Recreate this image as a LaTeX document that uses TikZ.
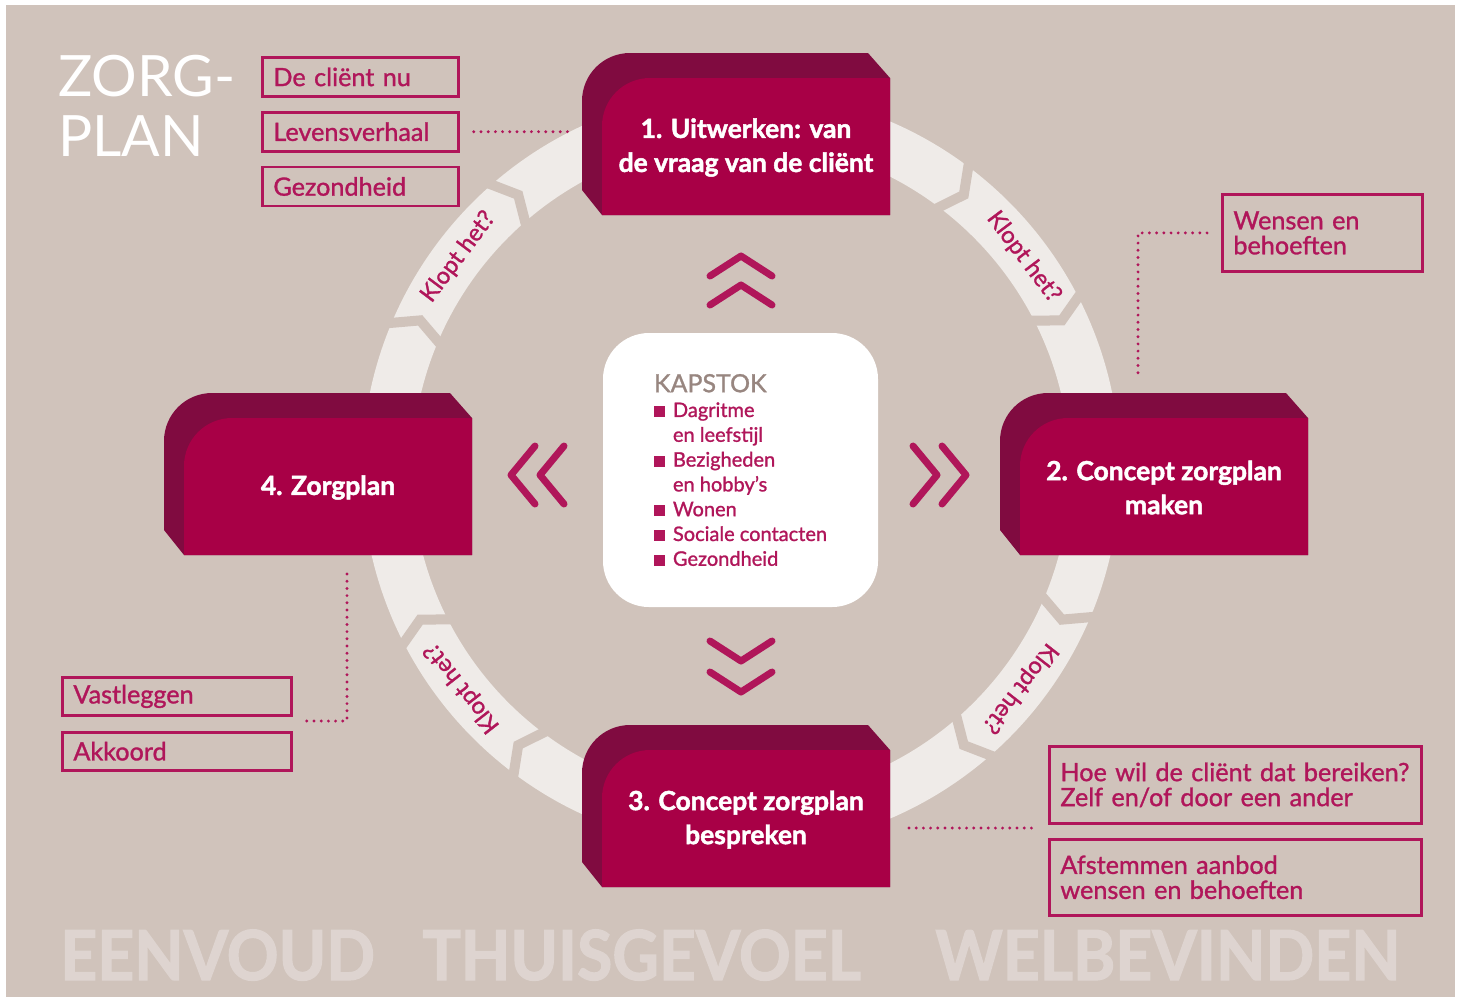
\documentclass[tikz,border=0pt]{standalone}
\usepackage{fontspec}
\setmainfont{Lato}
\newfontfamily\medfont{Lato}[FakeBold=1.2]
\newfontfamily\heavyfont{Lato}[BoldFeatures={FakeBold=1.8}]
\usepackage{tikz}
\usetikzlibrary{positioning}

\definecolor{zbg}{HTML}{D0C3BB}
\definecolor{zring}{HTML}{EFEBE8}
\definecolor{zfront}{HTML}{A80046}
\definecolor{zside}{HTML}{800B40}
\definecolor{zred}{HTML}{B0165A}
\definecolor{zgrey}{HTML}{988680}
\definecolor{zword}{HTML}{DED4D0}

\tikzstyle{tagbox} = [draw=zred, line width=1.4pt, text=zred, anchor=north west, align=left, inner xsep=5.5pt, inner ysep=0pt, font=\medfont\fontsize{12.6}{12.5}\selectfont]
\tikzstyle{blocktext} = [text=white, align=center, minimum width=144pt, minimum height=68.5pt, inner sep=0pt, font=\heavyfont\bfseries\fontsize{13.2}{17}\selectfont]
\tikzstyle{dotline} = [zred, line width=1.6pt, line cap=round, dash pattern=on 0pt off 3.6pt]
\tikzstyle{chev} = [zred, line width=3.5pt, line cap=round, line join=round]
\tikzstyle{klopt} = [text=zred, inner sep=0pt, font=\medfont\fontsize{11.8}{11.8}\selectfont]
\tikzstyle{ringline} = [zring, line width=25pt]
\tikzstyle{ringgap} = [zbg, line width=5pt]
\tikzstyle{bigword} = [text=zword, anchor=base west, inner sep=0pt, font=\heavyfont\bfseries\fontsize{34.5}{34.5}\selectfont]

\newcommand{\blt}{{\color{zred}\rule{5.5pt}{5.5pt}}\hspace{4pt}}
\newcommand{\zblock}[3]{%
  \begin{scope}[shift={#2}]
    \fill[zside] (-20,112) -- (-20,23) arc[start angle=180, end angle=270, radius=48] -- (266,-25) -- (288,0) -- (288,137) -- (0,137) -- cycle;
    \fill[zfront] (0,137) -- (0,48) arc[start angle=180, end angle=270, radius=48] -- (288,0) -- (288,137) -- cycle;
    \node[blocktext] (#1) at (144,69.5) {#3};
  \end{scope}}

\begin{document}
\begin{tikzpicture}[x=0.5pt, y=-0.5pt]
\useasboundingbox (0,0) rectangle (1461,998);
\fill[white] (0,0) rectangle (1461,998);
\fill[zbg] (6,5) rectangle (1455,997);

\begin{scope}[shift={(741,470)}]
  \draw[ringline] (0,0) circle[radius=354];
  \foreach \a in {-155,-129,-51,-25,25,51,129,155}
    \draw[ringgap] (\a-3:318) -- (\a:354) -- (\a-3:390);
  \node[klopt, rotate=53] (k1) at (-143:354) {Klopt het?};
  \node[klopt, rotate=-53] (k2) at (-37:354) {Klopt het?};
  \node[klopt, rotate=-128] (k3) at (38:354) {Klopt het?};
  \node[klopt, rotate=128] (k4) at (142:354) {Klopt het?};
\end{scope}

\zblock{s1}{(602,78)}{1. Uitwerken: van\\de vraag van de cliënt}
\zblock{s2}{(1020,418)}{2. Concept zorgplan\\maken}
\zblock{s3}{(602,750)}{3. Concept zorgplan\\bespreken}
\zblock{s4}{(184,418)}{4. Zorgplan}

\node[fill=white, rounded corners=23pt, minimum width=137.5pt, minimum height=137pt, align=left, inner sep=0pt, text=zred, font=\medfont\fontsize{10}{12.4}\selectfont] (kap) at (740.5,470) {{\color{zgrey}\fontsize{12.5}{12.4}\selectfont KAPSTOK}\\
  \blt Dagritme\\ \hphantom{\blt}en leefstijl\\
  \blt Bezigheden\\ \hphantom{\blt}en hobby’s\\
  \blt Wonen\\ \blt Sociale contacten\\ \blt Gezondheid};

\draw[chev] (710,276) -- (741,256) -- (772,276);
\draw[chev] (710,305) -- (741,285) -- (772,305);
\draw[chev] (710,641) -- (741,661) -- (772,641);
\draw[chev] (710,672) -- (741,692) -- (772,672);
\draw[chev] (535,446) -- (511,475) -- (535,504);
\draw[chev] (564,446) -- (540,475) -- (564,504);
\draw[chev] (913,446) -- (937,475) -- (913,504);
\draw[chev] (942,446) -- (966,475) -- (942,504);

\node[text=white, anchor=north west, align=left, inner sep=0pt, font=\fontsize{28.5}{30}\selectfont] (title) at (58,55) {ZORG-\\PLAN};

\node[tagbox, text width=87pt, minimum height=19.5pt] (dcn) at (261,56) {De cliënt nu};
\node[tagbox, text width=87pt, minimum height=19.5pt, below=6.5pt of dcn] (lev) {Levensverhaal};
\node[tagbox, text width=87pt, minimum height=19.5pt, below=6.5pt of lev] (gez) {Gezondheid};
\node[tagbox, text width=89pt, minimum height=38.5pt] (wens) at (1221,193) {Wensen en\\behoeften};
\node[tagbox, text width=175pt, minimum height=38.5pt] (hoe) at (1048,745) {Hoe wil de cliënt dat bereiken?\\Zelf en/of door een ander};
\node[tagbox, text width=175pt, minimum height=38pt, below=6.5pt of hoe] (afst) {Afstemmen aanbod\\wensen en behoeften};
\node[tagbox, text width=103.5pt, minimum height=19pt] (vast) at (61,676) {Vastleggen};
\node[tagbox, text width=103.5pt, minimum height=19pt, below=7pt of vast] (akk) {Akkoord};

\coordinate (c2) at (1138,393);
\coordinate (c3) at (889,828);
\coordinate (ha) at (1048,828);
\coordinate (c4) at (347,554);
\coordinate (vk) at (290,721);
\draw[dotline, shorten <=7pt, shorten >=17pt] (lev.east) -- (lev.east -| s1.west);
\draw[dotline, shorten <=7pt, shorten >=7.5pt] (wens.west) -| (c2);
\draw[dotline, shorten <=10pt, shorten >=7.5pt] (c3) -- (ha);
\draw[dotline, shorten <=10pt, shorten >=7.5pt] (c4) |- (vk);

\node[bigword] (w1) at (60,980) {\scalebox{0.93}[1]{EENVOUD}};
\node[bigword] (w2) at (422,980) {\scalebox{0.93}[1]{THUISGEVOEL}};
\node[bigword] (w3) at (935,980) {\scalebox{0.93}[1]{WELBEVINDEN}};
\end{tikzpicture}
\end{document}
